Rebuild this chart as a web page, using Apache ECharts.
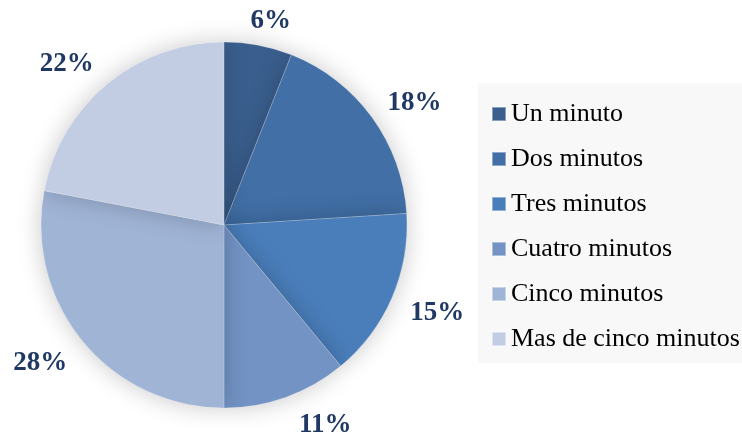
<!DOCTYPE html>
<html><head><meta charset="utf-8">
<script src="https://cdn.jsdelivr.net/npm/echarts@6/dist/echarts.min.js"></script>
<style>html,body{margin:0;padding:0;background:#fff}#c{width:742px;height:436px}</style>
</head><body><div id="c"></div>
<script>
const categories = ['Un minuto','Dos minutos','Tres minutos','Cuatro minutos','Cinco minutos','Mas de cinco minutos'];
const values = [6, 18, 15, 11, 28, 22];
const colors = ['#3A5F8E','#416FA6','#4A7EBB','#7393C4','#A0B4D6','#C2CDE4'];
// label nudges (style only): [dx, dy] in px relative to ring midpoint
const labelNudge = [[4,20],[6,12],[4,-3],[24,-14],[-8,-7],[-12,15]];

function padFor(n){
  const dx=n[0];
  return [0, dx<0?-2*dx:0, 0, dx>0?2*dx:0];
}
const rich = {};
labelNudge.forEach((n,i)=>{ rich['s'+i] = {fontSize:1, lineHeight:Math.max(1,2*Math.abs(n[1]))}; });

const chart = echarts.init(document.getElementById('c'), null, {renderer:'canvas'});
const data = categories.map((n,i)=>({name:n, value:values[i], itemStyle:{color:colors[i]}}));
chart.setOption({
  animation:false,
  legend:{
    orient:'vertical', left:478, top:83,
    backgroundColor:'#F8F8F8',
    padding:[18,30,11,13],
    itemWidth:14, itemHeight:14, itemGap:19,
    icon:'rect',
    textStyle:{fontFamily:'Liberation Serif', fontSize:26, color:'#000'},
    data:categories
  },
  series:[{
    type:'pie', center:[224,225], radius:[0,183], startAngle:90, clockwise:true,
    data:data,
    label:{show:false}, labelLine:{show:false},
    itemStyle:{borderColor:'rgba(255,255,255,0.4)', borderWidth:0.5, shadowBlur:24, shadowColor:'rgba(0,0,0,0.22)'},
    emphasis:{disabled:true}
  },{
    type:'pie', center:[224,225], radius:[218,232], startAngle:90, clockwise:true,
    silent:true, legendHoverLink:false,
    data:categories.map((n,i)=>({name:n, value:values[i], label:{padding:padFor(labelNudge[i])}})),
    itemStyle:{color:'rgba(0,0,0,0)'},
    label:{show:true, position:'inside',
      formatter:function(p){
        const i=p.dataIndex, dy=labelNudge[i][1], t=p.value+'%';
        const sp='{s'+i+'|\u00a0}';
        return dy>0 ? sp+'\n{m|'+t+'}' : '{m|'+t+'}\n'+sp;
      },
      rich:Object.assign({m:{fontFamily:'Liberation Serif', fontWeight:'bold', fontSize:27, color:'#1F3864', lineHeight:28}}, rich),
      fontFamily:'Liberation Serif', fontWeight:'bold', fontSize:27, color:'#1F3864'},
    labelLine:{show:false},
    emphasis:{disabled:true}
  }]
});
</script></body></html>
